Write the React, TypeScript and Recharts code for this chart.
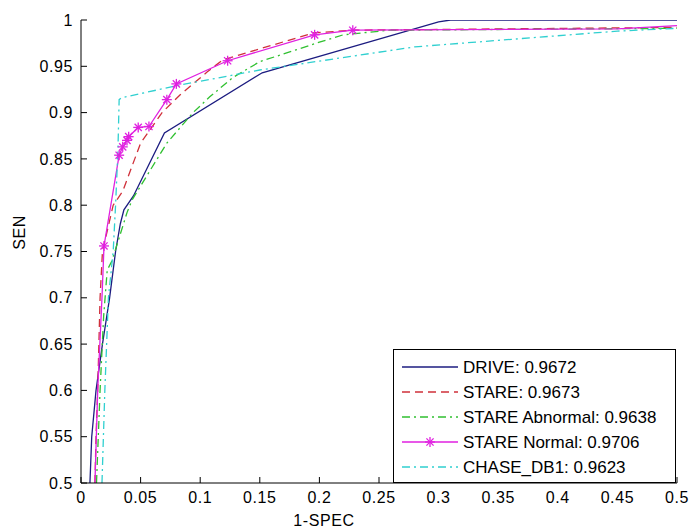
import React from "react"
import { LineChart, Line, XAxis, YAxis, Legend, Label } from "recharts"

// ROC points (x = 1-SPEC, y = SEN)
const driveFpr = [0.0075, 0.009, 0.0126, 0.018, 0.024, 0.029, 0.033, 0.036, 0.044, 0.07, 0.152, 0.3, 0.31, 0.5]
const driveTpr = [0.5, 0.55, 0.6, 0.65, 0.7, 0.75, 0.78, 0.795, 0.81, 0.878, 0.943, 0.998, 1.0, 1.0]

const stareFpr = [0.0117, 0.0126, 0.014, 0.015, 0.016, 0.018, 0.027, 0.035, 0.05, 0.068, 0.083, 0.106, 0.119, 0.195, 0.228, 0.5]
const stareTpr = [0.5, 0.55, 0.6, 0.65, 0.7, 0.75, 0.8, 0.815, 0.867, 0.9, 0.919, 0.944, 0.957, 0.986, 0.989, 0.992]

const abnormalFpr = [0.013, 0.016, 0.019, 0.022, 0.026, 0.0386, 0.043, 0.072, 0.094, 0.108, 0.1275, 0.15, 0.2, 0.22, 0.259, 0.5]
const abnormalTpr = [0.5, 0.6, 0.68, 0.73, 0.74, 0.792, 0.806, 0.867, 0.9, 0.917, 0.938, 0.955, 0.976, 0.984, 0.989, 0.991]

const normalFpr = [0.0117, 0.014, 0.0176, 0.0193, 0.032, 0.035, 0.0386, 0.04, 0.048, 0.057, 0.072, 0.08, 0.123, 0.196, 0.228, 0.45, 0.5]
const normalTpr = [0.5, 0.6, 0.7, 0.756, 0.854, 0.863, 0.87, 0.874, 0.884, 0.885, 0.914, 0.931, 0.956, 0.984, 0.989, 0.9905, 0.994]
const normalStar = [0, 0, 0, 1, 1, 1, 1, 1, 1, 1, 1, 1, 1, 1, 1, 0, 0]

const chaseFpr = [0.0176, 0.02, 0.023, 0.027, 0.029, 0.031, 0.032, 0.034, 0.08, 0.15, 0.28, 0.37, 0.45, 0.5]
const chaseTpr = [0.5, 0.6, 0.7, 0.75, 0.8, 0.86, 0.914, 0.916, 0.929, 0.946, 0.971, 0.98, 0.988, 0.991]

const xTicks = [0, 0.05, 0.1, 0.15, 0.2, 0.25, 0.3, 0.35, 0.4, 0.45, 0.5]
const yTicks = [0.5, 0.55, 0.6, 0.65, 0.7, 0.75, 0.8, 0.85, 0.9, 0.95, 1]

const FONT = "'Liberation Sans', Arial, sans-serif"

const toPoints = (xs: number[], ys: number[]) => xs.map((x, i) => ({ x, y: ys[i] }))

const series = [
  { name: "DRIVE: 0.9672", color: "#1c1c80", dash: undefined, star: false, data: toPoints(driveFpr, driveTpr) },
  { name: "STARE: 0.9673", color: "#d0303a", dash: "8 5", star: false, data: toPoints(stareFpr, stareTpr) },
  { name: "STARE Abnormal: 0.9638", color: "#30c030", dash: "8 4 2 4", star: false, data: toPoints(abnormalFpr, abnormalTpr) },
  { name: "STARE Normal: 0.9706", color: "#e020e0", dash: undefined, star: true, data: toPoints(normalFpr, normalTpr) },
  { name: "CHASE_DB1: 0.9623", color: "#30d0d0", dash: "8 4 2 4", star: false, data: toPoints(chaseFpr, chaseTpr) },
]

const fmt = (v: number) => String(Number(v.toFixed(2)))
const tickStyle = { fill: "#000", fontSize: 16, fontFamily: FONT, letterSpacing: 0.6 }

function Star({ cx, cy, color }: { cx: number; cy: number; color: string }) {
  const r = 5
  const d = 3.6
  return (
    <g stroke={color} strokeWidth={1.3}>
      <line x1={cx - r} y1={cy} x2={cx + r} y2={cy} />
      <line x1={cx} y1={cy - r} x2={cx} y2={cy + r} />
      <line x1={cx - d} y1={cy - d} x2={cx + d} y2={cy + d} />
      <line x1={cx - d} y1={cy + d} x2={cx + d} y2={cy - d} />
    </g>
  )
}

function StarDot(props: any) {
  const { cx, cy, index } = props
  if (!normalStar[index]) return <g key={index} />
  return <Star key={index} cx={cx} cy={cy} color="#e020e0" />
}

function BoxLegend() {
  return (
    <svg width={283} height={134} style={{ display: "block", background: "#fff" }}>
      <rect x={0.5} y={0.5} width={282} height={133} fill="#fff" stroke="#000" />
      {series.map((s, i) => {
        const y = 18 + i * 25
        return (
          <g key={s.name}>
            <line x1={9} y1={y} x2={65} y2={y} stroke={s.color} strokeWidth={1.3} strokeDasharray={s.dash} />
            {s.star && <Star cx={37} cy={y} color={s.color} />}
            <text x={70} y={y + 6} fontSize={17} fontFamily={FONT} fill="#000">
              {s.name}
            </text>
          </g>
        )
      })}
    </svg>
  )
}

export default function App() {
  return (
    <div style={{ position: "absolute", left: 0, top: 0, width: 690, height: 532, background: "#fff" }}>
      <LineChart width={690} height={532} margin={{ top: 20, right: 13, bottom: 0, left: 0 }}>
        <XAxis
          dataKey="x"
          type="number"
          domain={[0, 0.5]}
          ticks={xTicks}
          tickFormatter={fmt}
          height={49}
          tickSize={-6}
          tickMargin={15}
          axisLine={{ stroke: "#000" }}
          tickLine={{ stroke: "#000" }}
          tick={tickStyle}
          interval={0}
          allowDataOverflow
        >
          <Label
            content={(p: any) => {
              const vb = p.viewBox
              return (
                <text x={vb.x + vb.width / 2 - 55} y={vb.y + 43} textAnchor="middle" fontSize={16} letterSpacing={0.6} fontFamily={FONT} fill="#000">
                  1-SPEC
                </text>
              )
            }}
          />
        </XAxis>
        <XAxis
          xAxisId="top"
          orientation="top"
          type="number"
          domain={[0, 0.5]}
          ticks={xTicks}
          tickFormatter={() => ""}
          height={0}
          tickSize={-6}
          axisLine={{ stroke: "#000" }}
          tickLine={{ stroke: "#000" }}
          interval={0}
          allowDataOverflow
        />
        <YAxis
          type="number"
          domain={[0.5, 1]}
          ticks={yTicks}
          tickFormatter={fmt}
          width={81}
          tickSize={-6}
          tickMargin={14}
          axisLine={{ stroke: "#000" }}
          tickLine={{ stroke: "#000" }}
          tick={tickStyle}
          interval={0}
          allowDataOverflow
        >
          <Label
            content={(p: any) => {
              const vb = p.viewBox
              const x = 25
              const y = vb.y + vb.height / 2 - 19
              return (
                <text x={x} y={y} transform={`rotate(-90, ${x}, ${y})`} textAnchor="middle" fontSize={16} letterSpacing={0.6} fontFamily={FONT} fill="#000">
                  SEN
                </text>
              )
            }}
          />
        </YAxis>
        <YAxis
          yAxisId="right"
          orientation="right"
          type="number"
          domain={[0.5, 1]}
          ticks={yTicks}
          tickFormatter={() => ""}
          width={0}
          tickSize={-6}
          axisLine={{ stroke: "#000" }}
          tickLine={{ stroke: "#000" }}
          interval={0}
          allowDataOverflow
        />
        {series.map((s) => (
          <Line
            key={s.name}
            data={s.data}
            dataKey="y"
            type="linear"
            stroke={s.color}
            strokeWidth={1.3}
            strokeDasharray={s.dash}
            dot={s.star ? StarDot : false}
            activeDot={false}
            isAnimationActive={false}
          />
        ))}
        <Legend
          layout="horizontal"
          verticalAlign="middle"
          align="center"
          content={() => <BoxLegend />}
          wrapperStyle={{ left: 393, top: 349, width: 283, height: 134 }}
        />
      </LineChart>
    </div>
  )
}
